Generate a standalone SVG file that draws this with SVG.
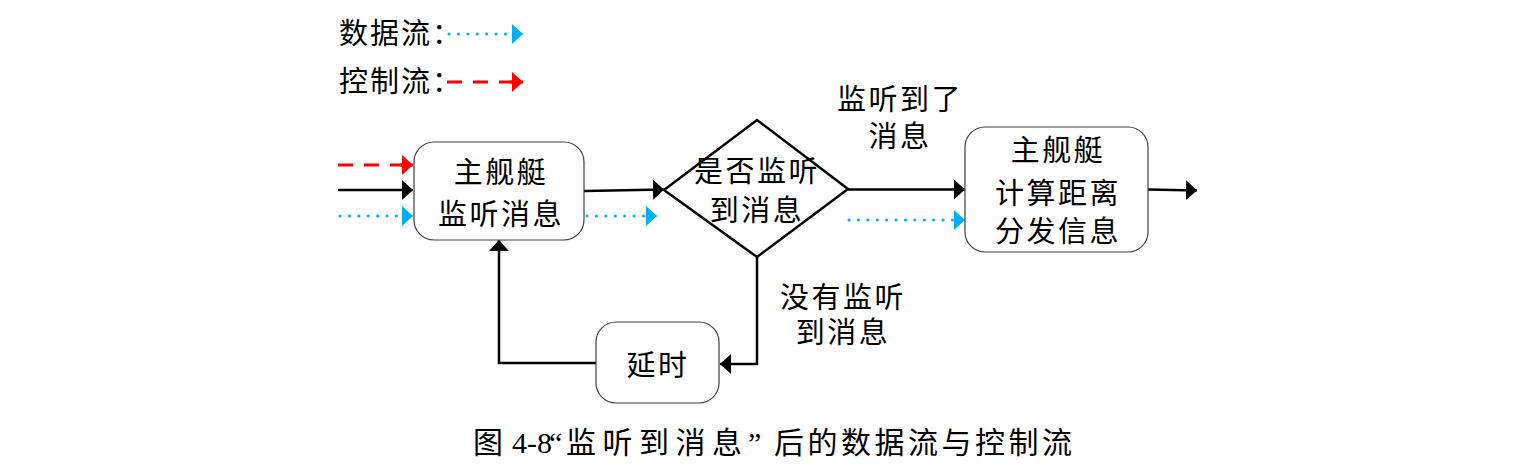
<svg xmlns="http://www.w3.org/2000/svg" width="1530" height="470" viewBox="0 0 1530 470">
<style>
text{font-family:"Liberation Serif","Noto Sans CJK SC",serif;fill:#000}
.t{font-size:29px;letter-spacing:2.5px;text-anchor:middle}
.lg{font-size:29px;letter-spacing:2px}
.cap{font-size:30px}
.box{fill:#fff;stroke:#404040;stroke-width:1.2}
.blk{fill:none;stroke:#000;stroke-width:2.5}
.blu{fill:none;stroke:#00B0F0;stroke-width:3;stroke-linecap:round;stroke-dasharray:0.1 9.3}
.red{fill:none;stroke:#FF0000;stroke-width:3;stroke-dasharray:15 11}
</style>
<defs>
<marker id="aK" markerUnits="userSpaceOnUse" markerWidth="12" markerHeight="22" refX="11" refY="10" orient="auto" viewBox="0 0 12 22"><path d="M0,0 L11,10 L0,20 z" fill="#000"/></marker>
<marker id="aB" markerUnits="userSpaceOnUse" markerWidth="12" markerHeight="22" refX="11" refY="10" orient="auto" viewBox="0 0 12 22"><path d="M0,0 L11,10 L0,20 z" fill="#00B0F0"/></marker>
<marker id="aR" markerUnits="userSpaceOnUse" markerWidth="12" markerHeight="22" refX="11" refY="10" orient="auto" viewBox="0 0 12 22"><path d="M0,0 L11,10 L0,20 z" fill="#FF0000"/></marker>
</defs>

<g id="legend">
<text class="lg" x="339" y="44">数据流：</text>
<line class="blu" x1="449" y1="34" x2="517" y2="34"/>
<line x1="512" y1="34" x2="523" y2="34" stroke="#00B0F0" stroke-width="1" marker-end="url(#aB)"/>
<text class="lg" x="339" y="92">控制流：</text>
<line class="red" x1="447" y1="82" x2="515" y2="82"/>
<line x1="510" y1="82" x2="523" y2="82" stroke="#FF0000" stroke-width="3" marker-end="url(#aR)"/>
</g>

<g id="connectors">
<line class="red" x1="338" y1="165" x2="408" y2="165"/>
<line x1="400" y1="165" x2="413" y2="165" stroke="#FF0000" stroke-width="3" marker-end="url(#aR)"/>
<line class="blk" x1="338" y1="190" x2="413" y2="190" marker-end="url(#aK)"/>
<line class="blu" x1="340" y1="216" x2="406" y2="216"/>
<line x1="402" y1="216" x2="413" y2="216" stroke="#00B0F0" stroke-width="1" marker-end="url(#aB)"/>

<line class="blk" x1="584" y1="191" x2="664" y2="189.5" marker-end="url(#aK)"/>
<line class="blu" x1="587" y1="216" x2="650" y2="216"/>
<line x1="646" y1="216" x2="657" y2="216" stroke="#00B0F0" stroke-width="1" marker-end="url(#aB)"/>

<line class="blk" x1="848" y1="189.5" x2="965" y2="189.5" marker-end="url(#aK)"/>
<line class="blu" x1="849" y1="220" x2="958" y2="220"/>
<line x1="954" y1="220" x2="965" y2="220" stroke="#00B0F0" stroke-width="1" marker-end="url(#aB)"/>

<line class="blk" x1="1148" y1="189.5" x2="1197" y2="190.5" marker-end="url(#aK)"/>

<path class="blk" d="M757,257 V364 H720" marker-end="url(#aK)"/>
<path class="blk" d="M596,363 H499 V240" marker-end="url(#aK)"/>
</g>

<g id="n1">
<rect class="box" x="414" y="142" width="170" height="98" rx="20"/>
<text class="t" x="501" y="183">主舰艇</text>
<text class="t" x="501" y="225">监听消息</text>
</g>

<g id="n2">
<polygon fill="#fff" stroke="#000" stroke-width="2.5" points="664,190 757,120 848,189 757,257"/>
<text class="t" x="757" y="182">是否监听</text>
<text class="t" x="757" y="221">到消息</text>
</g>

<g id="n3">
<rect class="box" x="965" y="127" width="183" height="125" rx="20"/>
<text class="t" x="1058" y="161">主舰艇</text>
<text class="t" x="1058" y="204">计算距离</text>
<text class="t" x="1058" y="242">分发信息</text>
</g>

<g id="n4">
<rect class="box" x="596" y="322" width="123" height="81" rx="20"/>
<text class="t" x="658" y="376">延时</text>
</g>

<g id="labels">
<text class="t" x="900" y="110">监听到了</text>
<text class="t" x="900" y="147">消息</text>
<text class="t" x="843" y="308">没有监听</text>
<text class="t" x="843" y="343">到消息</text>
</g>

<g id="caption">
<text class="cap" y="453"><tspan x="473">图</tspan><tspan x="512">4-8</tspan><tspan x="549">“</tspan><tspan x="566" letter-spacing="6.5">监听到消息</tspan><tspan x="748">”</tspan><tspan x="774" letter-spacing="3.5">后的数据流与控制流</tspan></text>
</g>
</svg>
